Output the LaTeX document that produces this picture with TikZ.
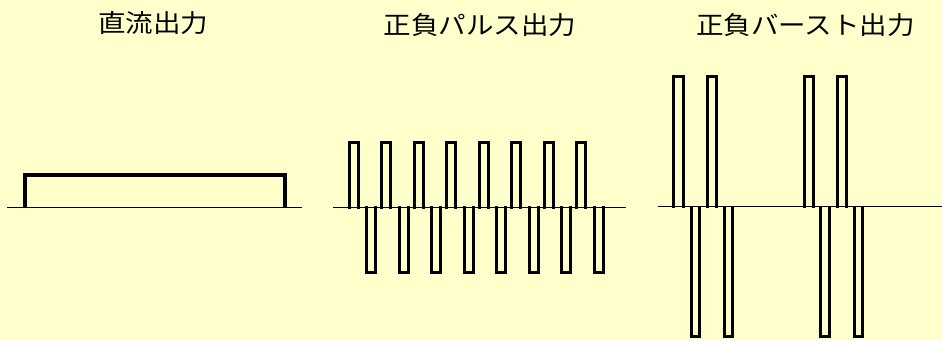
\documentclass[tikz,border=0pt]{standalone}
\usepackage{fontspec}
\newfontfamily\jpfont[FakeStretch=1.1]{Noto Sans CJK JP}
\definecolor{bgyellow}{HTML}{FFFFCC}
\begin{document}
\begin{tikzpicture}[x=1pt,y=-1pt,
  title/.style={font=\jpfont\fontsize{25}{25}\selectfont, text=black, inner sep=0pt, anchor=center},
  axis/.style={line width=1.4pt, black},
  dcline/.style={line width=3.6pt, black, line join=miter},
  pulse/.style={line width=3pt, black, line join=miter}]
\fill[bgyellow] (0,0) rectangle (942,340);
\useasboundingbox (0,0) rectangle (942,340);

% titles
\node[title] (t1) at (153,23) {直流出力};
\node[title] (t2) at (480,25.5) {正負パルス出力};
\node[title] (t3) at (805.5,25.5) {正負バースト出力};

% panel 1: DC output
\draw[axis] (7,207.3) -- (302,207.3);
\draw[dcline] (25,208) -- (25,175) -- (285,175) -- (285,208);

% panel 2: bipolar pulses
\draw[axis] (333,207.3) -- (626,207.3);
\foreach \k in {0,...,7}{
  \pgfmathsetmacro{\xa}{349+32.5*\k}
  \pgfmathsetmacro{\xb}{\xa+9}
  \draw[pulse] (\xa,208.5) -- (\xa,142) -- (\xb,142) -- (\xb,208.5);
  \pgfmathsetmacro{\xc}{366.5+32.5*\k}
  \pgfmathsetmacro{\xd}{\xc+9}
  \draw[pulse] (\xc,206) -- (\xc,272) -- (\xd,272) -- (\xd,206);
}

% panel 3: bipolar bursts
\draw[axis] (658,206.7) -- (942,206.7);
\foreach \xa in {673.7,707,804.5,837.5}{
  \pgfmathsetmacro{\xb}{\xa+9.3}
  \draw[pulse] (\xa,208) -- (\xa,76.3) -- (\xb,76.3) -- (\xb,208);
}
\foreach \xa in {691.3,724,820.5,854}{
  \pgfmathsetmacro{\xb}{\xa+8.5}
  \draw[pulse] (\xa,205.5) -- (\xa,336) -- (\xb,336) -- (\xb,205.5);
}
\end{tikzpicture}
\end{document}
